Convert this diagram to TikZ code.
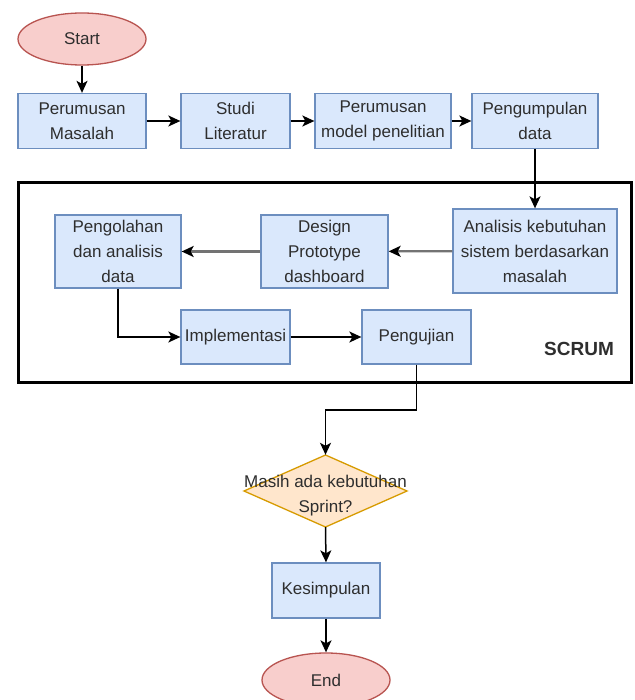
\documentclass[tikz,border=0pt]{standalone}
\usepackage{fontspec}
\setmainfont{Liberation Sans}
\usetikzlibrary{shapes.geometric,arrows.meta}
\definecolor{bfill}{HTML}{DAE8FC}
\definecolor{bline}{HTML}{6C8EBF}
\definecolor{rfill}{HTML}{F8CECC}
\definecolor{rline}{HTML}{B85450}
\definecolor{ofill}{HTML}{FFE6CC}
\definecolor{oline}{HTML}{D79B00}
\definecolor{txt}{HTML}{2E2E2E}
\tikzset{
  base/.style={font=\fontsize{17pt}{25pt}\selectfont, text=txt, align=center, inner sep=0pt},
  bluebox/.style={base, rectangle, draw=bline, fill=bfill, line width=1.3pt},
  term/.style={base, ellipse, draw=rline, fill=rfill, line width=1.3pt},
  arr/.style={line width=1.5pt, -{Stealth[length=12pt,width=11pt,inset=3pt]}},
  garr/.style={draw=black!55, line width=2.2pt, -{Stealth[length=12pt,width=11pt,inset=3pt,color=black]}},
}
\begin{document}
\begin{tikzpicture}[x=1pt,y=-1pt]
\useasboundingbox (0,0) rectangle (634,700);
\clip (0,0) rectangle (634,700);
\fill[white] (0,0) rectangle (634,700);
% SCRUM frame
\draw[line width=3pt, black] (18,183) rectangle (631,382);
\node[font=\fontsize{19pt}{22pt}\selectfont\bfseries, text=txt, inner sep=0pt] (scrum) at (579,349) {SCRUM};
% nodes
\node[term, minimum width=128pt, minimum height=52pt] (start) at (82,39) {Start};
\node[bluebox, minimum width=128pt, minimum height=55pt] (pm) at (82,121) {Perumusan\\Masalah};
\node[bluebox, minimum width=109pt, minimum height=55pt] (sl) at (235.5,121) {Studi\\Literatur};
\node[bluebox, minimum width=136pt, minimum height=55pt] (mp) at (383,121) {Perumusan\\model penelitian};
\node[bluebox, minimum width=126pt, minimum height=55pt] (pd) at (535,121) {Pengumpulan\\data};
\node[bluebox, minimum width=164pt, minimum height=84pt] (an) at (535,251) {Analisis kebutuhan\\sistem berdasarkan\\masalah};
\node[bluebox, minimum width=127pt, minimum height=73pt] (de) at (324.5,251.5) {Design\\Prototype\\dashboard};
\node[bluebox, minimum width=126pt, minimum height=73pt] (po) at (118,251.5) {Pengolahan\\dan analisis\\data};
\node[bluebox, minimum width=109pt, minimum height=54pt] (im) at (235.5,337) {Implementasi};
\node[bluebox, minimum width=109pt, minimum height=54pt] (uj) at (416.5,337) {Pengujian};
% diamond
\draw[draw=oline, fill=ofill, line width=1.3pt] (244,491) -- (325.5,455) -- (407,491) -- (325.5,527) -- cycle;
\node[base, minimum width=163pt, minimum height=72pt] (dia) at (325.5,491) {};
\node[base] (diatext) at (325.5,496) {Masih ada kebutuhan\\Sprint?};
\node[bluebox, minimum width=108pt, minimum height=55pt] (ks) at (326,590.5) {Kesimpulan};
\node[term, minimum width=128pt, minimum height=54pt] (en) at (326,680) {End};
\coordinate (bend) at (416.5,410);
% connectors
\draw[arr] (start) -- (pm);
\draw[arr] (pm) -- (sl);
\draw[arr] (sl) -- (mp);
\draw[arr] (mp) -- (pd);
\draw[arr] (pd) -- (an);
\draw[garr] (an) -- (de);
\draw[garr] (de) -- (po);
\draw[arr] (po.south) |- (im.west);
\draw[arr] (im) -- (uj);
\draw[arr] (uj.south) -- (bend) -| (dia.north);
\draw[arr] (dia.south) -- (ks.north);
\draw[arr] (ks.south) -- (en.north);
\end{tikzpicture}
\end{document}
